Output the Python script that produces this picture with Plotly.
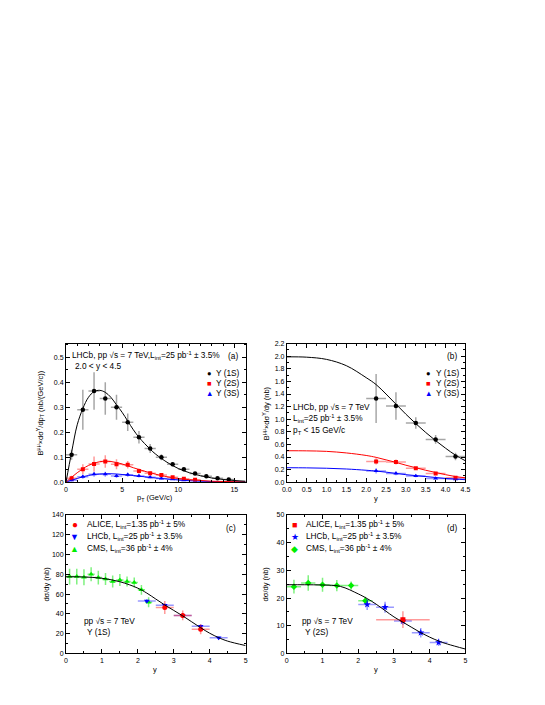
import plotly.graph_objects as go

# page body has an 8px margin, so the figure is drawn 8px smaller and offset
OFF = 8
W, H = 545 - OFF, 705 - OFF
FONT = "Liberation Sans, Arial, sans-serif"

# ---- panel (a): pT spectra, LHCb 2.0<y<4.5 ----
pt_1s = [0.5, 1.5, 2.5, 3.5, 4.5, 5.5, 6.5, 7.5, 8.5, 9.5, 10.5, 11.5, 12.5, 13.5, 14.5]
val_1s = [0.11, 0.29, 0.365, 0.335, 0.30, 0.24, 0.18, 0.135, 0.10, 0.072, 0.052, 0.035, 0.024, 0.016, 0.011]
err_1s = [0.02, 0.08, 0.075, 0.065, 0.05, 0.035, 0.025, 0.018, 0.012, 0.008, 0.006, 0.004, 0.003, 0.002, 0.002]
pt_2s = [0.5, 1.5, 2.5, 3.5, 4.5, 5.5, 6.5, 7.5, 8.5, 9.5, 10.5, 11.5]
val_2s = [0.016, 0.052, 0.073, 0.083, 0.072, 0.070, 0.045, 0.036, 0.029, 0.020, 0.014, 0.010]
err_2s = [0.01, 0.02, 0.03, 0.025, 0.02, 0.015, 0.01, 0.008, 0.006, 0.005, 0.004, 0.003]
pt_3s = [0.5, 1.5, 2.5, 3.5, 4.5, 5.5, 6.5, 7.5, 8.5, 9.5, 10.5]
val_3s = [0.008, 0.022, 0.032, 0.032, 0.025, 0.030, 0.025, 0.020, 0.015, 0.012, 0.008]
err_3s = [0.005, 0.008, 0.01, 0.01, 0.008, 0.008, 0.006, 0.005, 0.004, 0.003, 0.003]

fit_pt = [0, 0.5, 1, 1.5, 2, 2.5, 3, 3.5, 4, 4.5, 5, 5.5, 6, 6.5, 7, 7.5, 8, 9, 10, 11, 12, 13, 14, 15, 16]
fit_pt_1s = [0, 0.12, 0.23, 0.295, 0.34, 0.363, 0.368, 0.36, 0.34, 0.31, 0.28, 0.245, 0.21, 0.18,
             0.155, 0.132, 0.112, 0.08, 0.055, 0.038, 0.026, 0.017, 0.011, 0.007, 0.004]
fit_pt_2s = [0, 0.02, 0.038, 0.054, 0.067, 0.076, 0.082, 0.084, 0.083, 0.079, 0.073, 0.066, 0.058, 0.051,
             0.044, 0.038, 0.032, 0.022, 0.015, 0.010, 0.007, 0.004, 0.003, 0.002, 0.001]
fit_pt_3s = [0, 0.008, 0.015, 0.022, 0.027, 0.031, 0.033, 0.034, 0.034, 0.033, 0.031, 0.029, 0.027, 0.024,
             0.022, 0.019, 0.017, 0.013, 0.009, 0.006, 0.004, 0.003, 0.002, 0.0015, 0.001]

# ---- panel (b): rapidity spectra, LHCb pT<15 ----
y_b = [2.25, 2.75, 3.25, 3.75, 4.25]
b_1s = [1.33, 1.21, 0.94, 0.68, 0.41]
b_1s_err = [0.39, 0.22, 0.09, 0.07, 0.06]
b_2s = [0.33, 0.32, 0.22, 0.14, 0.07]
b_2s_err = [0.05, 0.04, 0.02, 0.02, 0.02]
b_3s = [0.18, 0.14, 0.10, 0.06, 0.05]
b_3s_err = [0.04, 0.03, 0.02, 0.01, 0.01]

fit_y_b = [0, 0.5, 1.0, 1.5, 2.0, 2.25, 2.5, 2.75, 3.0, 3.25, 3.5, 3.75, 4.0, 4.25, 4.5]
fit_b_1s = [1.99, 1.985, 1.95, 1.85, 1.66, 1.55, 1.40, 1.24, 1.08, 0.93, 0.79, 0.66, 0.54, 0.43, 0.34]
fit_b_2s = [0.50, 0.498, 0.49, 0.465, 0.425, 0.395, 0.355, 0.315, 0.27, 0.23, 0.19, 0.155, 0.12, 0.09, 0.07]
fit_b_3s = [0.23, 0.228, 0.222, 0.21, 0.19, 0.177, 0.16, 0.14, 0.12, 0.105, 0.09, 0.075, 0.06, 0.05, 0.04]

# ---- panel (c): Upsilon(1S) dsigma/dy ----
cms_y_1s = [0.1, 0.3, 0.5, 0.7, 0.9, 1.1, 1.3, 1.5, 1.7, 1.9, 2.1, 2.3]
cms_1s = [77.7, 77.7, 77.0, 80.0, 76.7, 75.3, 72.7, 74.3, 72.7, 71.7, 64.3, 51.7]
cms_1s_err = [8, 8, 8, 7, 7, 6, 6, 6, 5, 5, 5, 5]
lhcb_y = [2.25, 2.75, 3.25, 3.75, 4.25]
lhcb_1s = [53.0, 48.7, 38.5, 27.5, 16.0]
lhcb_1s_err = [2, 2, 2, 2, 1.5]
alice_y_1s = [2.75, 3.25, 3.75]
alice_1s = [46.5, 38.5, 24.5]
alice_1s_err = [6.5, 5, 5]

fit_y_cd = [0, 0.5, 1.0, 1.5, 2.0, 2.25, 2.5, 2.75, 3.0, 3.25, 3.5, 3.75, 4.0, 4.25, 4.5, 5.0]
fit_c = [77.5, 77.3, 76.0, 72.5, 66.0, 61.0, 55.0, 49.0, 43.5, 38.0, 32.0, 26.0, 20.5, 16.0, 12.5, 8.0]

# ---- panel (d): Upsilon(2S) dsigma/dy ----
cms_y_2s = [0.2, 0.6, 1.0, 1.4, 1.8, 2.2]
cms_2s = [24.1, 25.4, 24.8, 24.5, 24.5, 19.0]
cms_2s_err = [2.5, 2.8, 2.5, 2.0, 1.5, 1.5]
lhcb_2s = [17.7, 16.7, 11.7, 7.5, 4.0]
lhcb_2s_err = [2.0, 2.0, 1.3, 1.7, 1.3]
alice_y_2s = [3.25]
alice_2s = [12.2]
alice_2s_err = [3.0]
fit_d = [24.8, 24.8, 24.7, 24.2, 21.5, 19.8, 17.8, 15.5, 13.2, 11.3, 9.4, 7.5, 5.9, 4.5, 3.4, 1.6]

BLACK, RED, BLUE, GREEN = "black", "#ff0000", "#0000ff", "#00ee00"
ERR = {BLACK: "rgba(0,0,0,0.35)", RED: "rgba(255,0,0,0.4)",
       BLUE: "rgba(0,0,255,0.4)", GREEN: "rgba(0,230,0,0.5)"}

fig = go.Figure()


def points(x, y, ey, ex, color, symbol, ax, size=4.5):
    xa, ya = ("x", "y") if ax == 1 else ("x%d" % ax, "y%d" % ax)
    fig.add_trace(go.Scatter(
        x=x, y=y, mode="markers", xaxis=xa, yaxis=ya, showlegend=False,
        marker=dict(color=color, symbol=symbol, size=size, line=dict(width=0)),
        error_y=dict(type="data", array=ey, color=ERR[color], thickness=1.5, width=0),
        error_x=dict(type="constant", value=ex, color=ERR[color], thickness=1.5, width=0),
    ))


def curve(x, y, color, ax):
    xa, ya = ("x", "y") if ax == 1 else ("x%d" % ax, "y%d" % ax)
    fig.add_trace(go.Scatter(x=x, y=y, mode="lines", xaxis=xa, yaxis=ya, showlegend=False,
                             line=dict(color=color, width=1, shape="spline")))


# (a)
points(pt_3s, val_3s, err_3s, 0.5, BLUE, "triangle-up", 1)
points(pt_2s, val_2s, err_2s, 0.5, RED, "square", 1, 4)
points(pt_1s, val_1s, err_1s, 0.5, BLACK, "circle", 1)
curve(fit_pt, fit_pt_3s, BLUE, 1)
curve(fit_pt, fit_pt_2s, RED, 1)
curve(fit_pt, fit_pt_1s, BLACK, 1)
# (b)
points(y_b, b_3s, b_3s_err, 0.25, BLUE, "triangle-up", 2)
points(y_b, b_2s, b_2s_err, 0.25, RED, "square", 2, 4)
points(y_b, b_1s, b_1s_err, 0.25, BLACK, "circle", 2)
curve(fit_y_b, fit_b_3s, BLUE, 2)
curve(fit_y_b, fit_b_2s, RED, 2)
curve(fit_y_b, fit_b_1s, BLACK, 2)
# (c)
points(cms_y_1s, cms_1s, cms_1s_err, 0.1, GREEN, "triangle-up", 3, 5)
points(lhcb_y, lhcb_1s, lhcb_1s_err, 0.25, BLUE, "triangle-down", 3, 5)
points(alice_y_1s, alice_1s, alice_1s_err, 0.25, RED, "circle", 3, 5)
curve(fit_y_cd, fit_c, BLACK, 3)
# (d)
points(cms_y_2s, cms_2s, cms_2s_err, 0.2, GREEN, "diamond", 4, 5)
points(lhcb_y, lhcb_2s, lhcb_2s_err, 0.25, BLUE, "star", 4, 5.5)
points(alice_y_2s, alice_2s, alice_2s_err, 0.75, RED, "square", 4, 5)
curve(fit_y_cd, fit_d, BLACK, 4)


def px(v):
    return (v - OFF) / W


def py(v):
    return 1 - (v - OFF) / H


def axis(dom, rng, dtick, minor, fmt, anchor):
    return dict(domain=dom, range=rng, dtick=dtick, tick0=0, tickformat=fmt, anchor=anchor,
                showline=True, linecolor="black", linewidth=1, mirror="allticks",
                ticks="inside", ticklen=4, tickcolor="black", showgrid=False, zeroline=False,
                tickfont=dict(size=7, color="black", family=FONT),
                minor=dict(dtick=minor, ticks="inside", ticklen=2, tickcolor="black", showgrid=False))


col1 = [px(62), px(245)]
col2 = [px(287), px(469)]
row1 = [py(483), py(343)]
row2 = [py(656), py(516)]

fig.update_layout(
    width=W, height=H, margin=dict(l=0, r=0, t=0, b=0),
    paper_bgcolor="white", plot_bgcolor="white", showlegend=False,
    font=dict(family=FONT, color="black", size=8),
    xaxis=axis(col1, [0, 16], 5, 1, "d", "y"),
    yaxis=axis(row1, [0, 0.555], 0.1, 0.05, ".1f", "x"),
    xaxis2=axis(col2, [0, 4.5], 0.5, 0.25, ".1f", "y2"),
    yaxis2=axis(row1, [0, 2.2], 0.2, 0.1, ".1f", "x2"),
    xaxis3=axis(col1, [0, 5], 1, 0.5, "d", "y3"),
    yaxis3=axis(row2, [0, 140], 20, 10, "d", "x3"),
    xaxis4=axis(col2, [0, 5], 1, 0.5, "d", "y4"),
    yaxis4=axis(row2, [0, 50], 10, 5, "d", "x4"),
)

notes = []
TXT = 8.3


def text(x, y, s, size=TXT, xanchor="left", angle=0):
    notes.append(dict(x=px(x), y=py(y), xref="paper", yref="paper", text=s, showarrow=False,
                      xanchor=xanchor, yanchor="middle", textangle=angle,
                      font=dict(size=size, color="black", family=FONT)))


def legend_entry(x, y, sym, color, label, gap=5, symsize=7.5):
    notes.append(dict(x=px(x), y=py(y), xref="paper", yref="paper",
                      text="<span style='color:%s'>%s</span>" % (color, sym), showarrow=False,
                      xanchor="center", yanchor="middle", font=dict(size=symsize, family=FONT)))
    text(x + gap, y, label)


ups = "\u03a5"
lint = "L<sub>int</sub>"
# axis titles
text(153, 499, "p<sub>T</sub> (GeV/c)", 7.5, "center")
text(378, 499, "y", 7.5, "center")
text(153, 672, "y", 7.5, "center")
text(378, 672, "y", 7.5, "center")
text(36, 413, "B<sup>\u03bc\u03bc</sup>\u00d7d\u03c3<sup>" + ups + "</sup>/dp<sub>T</sub> (nb/(GeV/c))", 7.5, "center", -90)
text(266, 413, "B<sup>\u03bc\u03bc</sup>\u00d7d\u03c3<sup>" + ups + "</sup>/dy (nb)", 7.5, "center", -90)
text(42, 586, "d\u03c3/dy (nb)", 7.5, "center", -90)
text(265, 586, "d\u03c3/dy (nb)", 7.5, "center", -90)

# (a)
text(66, 355, "LHCb, pp \u221as = 7 TeV,%s=25 pb<sup>-1</sup> \u00b1 3.5%%" % lint)
text(69, 366, "2.0 < y < 4.5")
text(239, 355, "(a)", TXT, "right")
legend_entry(208, 373, "\u25cf", BLACK, ups + " (1S)")
legend_entry(208, 383, "\u25a0", RED, ups + " (2S)")
legend_entry(208, 393, "\u25b2", BLUE, ups + " (3S)")
# (b)
text(462, 355, "(b)", TXT, "right")
legend_entry(431, 373, "\u25cf", BLACK, ups + " (1S)", 6)
legend_entry(431, 383, "\u25a0", RED, ups + " (2S)", 6)
legend_entry(431, 393, "\u25b2", BLUE, ups + " (3S)", 6)
text(291, 407, "LHCb, pp \u221as = 7 TeV")
text(291, 419, "%s=25 pb<sup>-1</sup> \u00b1 3.5%%" % lint)
text(291, 431, "p<sub>T</sub> < 15 GeV/c")
# (c)
text(237, 529, "(c)", TXT, "right")
legend_entry(71, 526, "\u25cf", RED, "ALICE, %s=1.35 pb<sup>-1</sup> \u00b1 5%%" % lint, 10, 10)
legend_entry(71, 538, "\u25bc", BLUE, "LHCb, %s=25 pb<sup>-1</sup> \u00b1 3.5%%" % lint, 10, 9)
legend_entry(71, 550, "\u25b2", GREEN, "CMS, %s=36 pb<sup>-1</sup> \u00b1 4%%" % lint, 10, 9)
text(78, 623, "pp \u221as = 7 TeV")
text(81, 634, ups + " (1S)")
# (d)
text(462, 529, "(d)", TXT, "right")
legend_entry(295, 526, "\u25a0", RED, "ALICE, %s=1.35 pb<sup>-1</sup> \u00b1 5%%" % lint, 10, 9)
legend_entry(295, 538, "\u2605", BLUE, "LHCb, %s=25 pb<sup>-1</sup> \u00b1 3.5%%" % lint, 10, 9)
legend_entry(295, 550, "\u25c6", GREEN, "CMS, %s=36 pb<sup>-1</sup> \u00b1 4%%" % lint, 10, 9)
text(300, 623, "pp \u221as = 7 TeV")
text(303, 634, ups + " (2S)")

fig.update_layout(annotations=notes)

fig.write_html("out.html")
